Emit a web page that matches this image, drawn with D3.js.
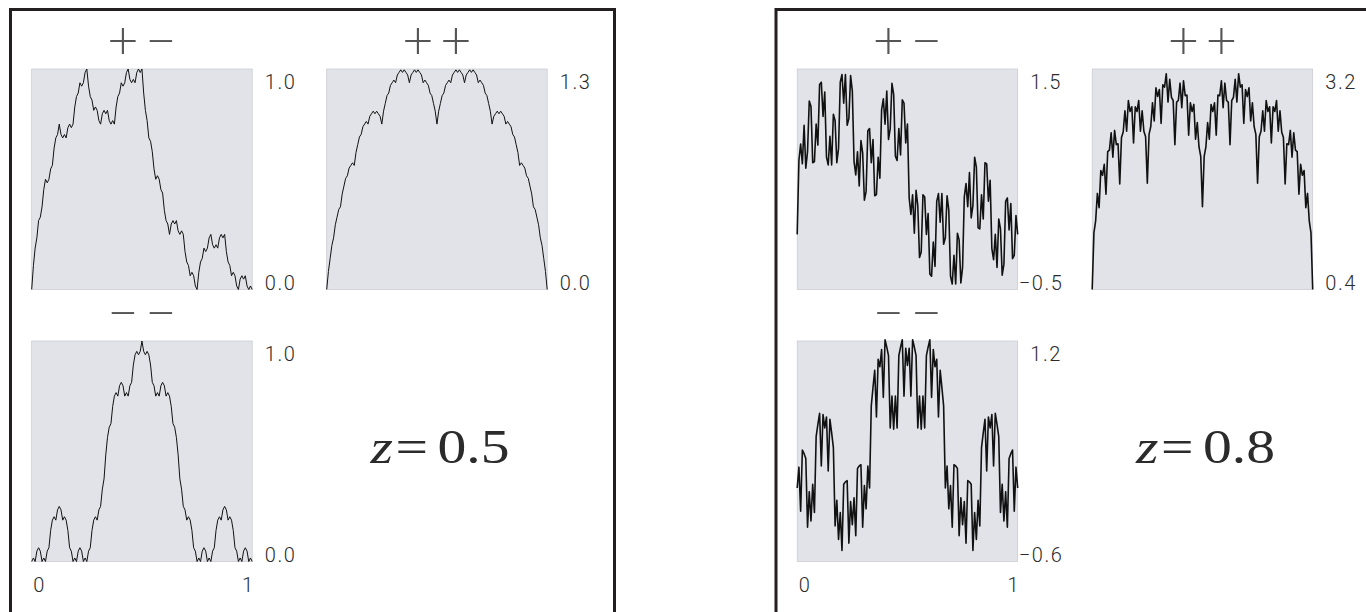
<!DOCTYPE html>
<html>
<head>
<meta charset="utf-8">
<script src="https://cdn.jsdelivr.net/npm/d3@7"></script>
<style>
  html, body { margin: 0; padding: 0; background: #fff; overflow: hidden; }
  svg { display: block; }
  .tick-label { font-family: Roboto, 'Open Sans', sans-serif; font-weight: 300; font-size: 20px; fill: #2b2b2b; letter-spacing: 1.6px; }
  .sign { font-family: Lato, 'DejaVu Sans', sans-serif; font-weight: 300; font-size: 54px; fill: #555; }
  .z-label { font-family: 'Liberation Serif', 'DejaVu Serif', serif; font-size: 48px; fill: #2b2b2b; }
</style>
</head>
<body>
<div id="chart"></div>
<script>
// panel titles (sign pattern) and the z of each frame
const signLabels = [['+', '−'], ['+', '+'], ['−', '−']];
const zLabels = ['0.5', '0.8'];
const xTickLabels = [0, 1];

// y ranges shown on the right of each panel
const rangesHalf = [[0, 1], [0, 1.333], [0, 1]];
const rangesEight = [[-0.5, 1.5], [0.4, 3.2], [-0.6, 1.2]];

// z = 0.5 curves, sampled evenly over [0, 1]
const pmHalf = [
  0, .109, .1875, .234, .3125, .328, .375, .453,
  .5, .484, .5, .547, .5625, .641, .6875, .703,
  .75, .703, .6875, .703, .6875, .734, .75, .734,
  .75, .828, .875, .891, .9375, .922, .9375, .984,
  1, .922, .875, .859, .8125, .828, .8125, .766,
  .75, .797, .8125, .797, .8125, .766, .75, .766,
  .75, .828, .875, .891, .9375, .922, .9375, .984,
  1, .953, .9375, .953, .9375, .984, 1, .984,
  1, .891, .8125, .766, .6875, .672, .625, .547,
  .5, .516, .5, .453, .4375, .359, .3125, .297,
  .25, .297, .3125, .297, .3125, .266, .25, .266,
  .25, .172, .125, .109, .0625, .078, .0625, .016,
  0, .078, .125, .141, .1875, .172, .1875, .234,
  .25, .203, .1875, .203, .1875, .234, .25, .234,
  .25, .172, .125, .109, .0625, .078, .0625, .016,
  0, .047, .0625, .047, .0625, .016, 0, .016,
  0
];
const ppHalf = [
  0, .109, .1875, .266, .3125, .391, .4375, .484,
  .5, .578, .625, .672, .6875, .734, .75, .766,
  .75, .828, .875, .922, .9375, .984, 1.0, 1.016,
  1.0, 1.047, 1.0625, 1.078, 1.0625, 1.078, 1.0625, 1.047,
  1.0, 1.078, 1.125, 1.172, 1.1875, 1.234, 1.25, 1.266,
  1.25, 1.297, 1.3125, 1.328, 1.3125, 1.328, 1.3125, 1.297,
  1.25, 1.297, 1.3125, 1.328, 1.3125, 1.328, 1.3125, 1.297,
  1.25, 1.266, 1.25, 1.234, 1.1875, 1.172, 1.125, 1.078,
  1.0, 1.078, 1.125, 1.172, 1.1875, 1.234, 1.25, 1.266,
  1.25, 1.297, 1.3125, 1.328, 1.3125, 1.328, 1.3125, 1.297,
  1.25, 1.297, 1.3125, 1.328, 1.3125, 1.328, 1.3125, 1.297,
  1.25, 1.266, 1.25, 1.234, 1.1875, 1.172, 1.125, 1.078,
  1.0, 1.047, 1.0625, 1.078, 1.0625, 1.078, 1.0625, 1.047,
  1.0, 1.016, 1.0, .984, .9375, .922, .875, .828,
  .75, .766, .75, .734, .6875, .672, .625, .578,
  .5, .484, .4375, .391, .3125, .266, .1875, .109,
  0
];
const mmHalf = [
  0, .016, 0, .047, .0625, .047, 0, .016,
  0, .047, .0625, .141, .1875, .203, .1875, .234,
  .25, .234, .1875, .203, .1875, .141, .0625, .047,
  0, .016, 0, .047, .0625, .047, 0, .016,
  0, .047, .0625, .141, .1875, .203, .1875, .234,
  .25, .328, .375, .484, .5625, .609, .625, .703,
  .75, .766, .75, .797, .8125, .797, .75, .766,
  .75, .797, .8125, .891, .9375, .953, .9375, .953,
  1, .953, .9375, .953, .9375, .891, .8125, .797,
  .75, .766, .75, .797, .8125, .797, .75, .766,
  .75, .703, .625, .609, .5625, .484, .375, .328,
  .25, .234, .1875, .203, .1875, .141, .0625, .047,
  0, .016, 0, .047, .0625, .047, 0, .016,
  0, .047, .0625, .141, .1875, .203, .1875, .234,
  .25, .234, .1875, .203, .1875, .141, .0625, .047,
  0, .016, 0, .047, .0625, .047, 0, .016,
  0
];

// z = 0.8 curves
const pmEight = [
  0, .67, .82, .64, .99, .60, .75, 1.21,
  1.16, .65, .66, 1.00, .81, 1.36, 1.38, 1.07,
  1.29, .70, .63, .89, .63, 1.09, 1.03, .65,
  .78, 1.38, 1.45, 1.19, 1.45, .99, 1.05, 1.44,
  1.30, .66, .54, .75, .44, .85, .74, .31,
  .39, .94, .96, .65, .86, .35, .36, .70,
  .51, 1.13, 1.23, 1.00, 1.30, .86, .96, 1.37,
  1.27, .71, .67, .96, .72, 1.22, 1.19, .83,
  1.00, .33, .18, .36, .01, .40, .26, -.21,
  -.16, .36, .34, .00, .19, -.36, -.38, -.07,
  -.29, .30, .37, .11, .37, -.09, -.03, .35,
  .22, -.38, -.45, -.19, -.45, .01, -.05, -.44,
  -.30, .34, .46, .25, .56, .15, .26, .70,
  .61, .06, .05, .36, .14, .65, .64, .30,
  .49, -.13, -.23, .00, -.30, .14, .05, -.37,
  -.27, .30, .33, .04, .28, -.22, -.19, .17,
  0
];
const ppEight = [
  .40, 1.12, 1.27, 1.62, 1.44, 1.91, 1.85, 1.99,
  1.61, 2.15, 2.17, 2.39, 2.08, 2.42, 2.24, 2.25,
  1.74, 2.33, 2.40, 2.67, 2.41, 2.80, 2.66, 2.72,
  2.26, 2.72, 2.66, 2.80, 2.41, 2.67, 2.41, 2.34,
  1.75, 2.37, 2.47, 2.77, 2.54, 2.96, 2.85, 2.94,
  2.51, 3.00, 2.97, 3.14, 2.78, 3.07, 2.84, 2.80,
  2.24, 2.78, 2.80, 3.02, 2.71, 3.05, 2.86, 2.87,
  2.36, 2.77, 2.66, 2.75, 2.31, 2.52, 2.21, 2.09,
  1.45, 2.09, 2.21, 2.52, 2.31, 2.75, 2.66, 2.77,
  2.36, 2.87, 2.86, 3.05, 2.71, 3.02, 2.80, 2.78,
  2.24, 2.80, 2.84, 3.07, 2.78, 3.14, 2.97, 3.00,
  2.51, 2.94, 2.85, 2.96, 2.54, 2.77, 2.47, 2.37,
  1.75, 2.34, 2.41, 2.67, 2.41, 2.80, 2.66, 2.72,
  2.26, 2.72, 2.66, 2.80, 2.41, 2.67, 2.40, 2.33,
  1.74, 2.25, 2.24, 2.42, 2.08, 2.39, 2.17, 2.15,
  1.61, 1.99, 1.85, 1.91, 1.44, 1.62, 1.27, 1.12,
  .40
];
const mmEight = [
  0, .17, -.19, .31, .28, .24, -.32, -.03,
  -.27, .03, -.20, .42, .52, .61, .18, .60,
  .49, .58, .14, .56, .45, .33, -.31, -.10,
  -.42, -.20, -.51, .03, .05, .06, -.45, -.11,
  -.30, -.08, -.39, .16, .18, .19, -.32, .02,
  -.17, .18, .00, .67, .82, .96, .58, 1.05,
  .99, 1.13, .74, 1.21, 1.15, 1.08, .49, .75,
  .48, .75, .49, 1.08, 1.15, 1.21, .75, 1.14,
  1.00, 1.14, .75, 1.21, 1.15, 1.08, .49, .75,
  .48, .75, .49, 1.08, 1.15, 1.21, .74, 1.13,
  .99, 1.05, .58, .96, .82, .67, .00, .18,
  -.17, .02, -.32, .19, .18, .16, -.39, -.08,
  -.30, -.11, -.45, .06, .05, .03, -.51, -.20,
  -.42, -.10, -.31, .33, .45, .56, .14, .58,
  .49, .60, .18, .61, .52, .42, -.20, .03,
  -.27, -.03, -.32, .24, .28, .31, -.19, .17,
  0
];

const WIDTH = 1366;
const HEIGHT = 612;
const BOX_SHIFT = 765.5;
const PANEL = 220.5;
const panelSpots = [
  { x: 31.7, y: 69 },
  { x: 326.7, y: 69 },
  { x: 31.7, y: 341 },
];

const svg = d3
  .select('#chart')
  .append('svg')
  .attr('width', WIDTH)
  .attr('height', HEIGHT);

const drawFrame = (shift, zText, series, ranges, lineWidth) => {
  const frame = svg.append('g').attr('transform', `translate(${shift}, 0)`);

  frame
    .append('rect')
    .attr('x', 10.5)
    .attr('y', 9.5)
    .attr('width', 604)
    .attr('height', 700)
    .attr('fill', 'none')
    .attr('stroke', '#231f20')
    .attr('stroke-width', 3);

  series.forEach((values, k) => {
    const spot = panelSpots[k];
    const x = d3.scaleLinear().domain([0, 1]).range([spot.x, spot.x + PANEL]);
    const y = d3
      .scaleLinear()
      .domain(ranges[k])
      .range([spot.y + PANEL, spot.y]);

    frame
      .append('rect')
      .attr('x', spot.x)
      .attr('y', spot.y)
      .attr('width', PANEL)
      .attr('height', PANEL)
      .attr('fill', '#e1e3e8')
      .attr('stroke', '#c6c8cd')
      .attr('stroke-width', 0.7);

    const line = d3
      .line()
      .x((_, i) => x(i / (values.length - 1)))
      .y((d) => y(d));

    frame
      .append('path')
      .datum(values)
      .attr('d', line)
      .attr('fill', 'none')
      .attr('stroke', '#111')
      .attr('stroke-width', lineWidth)
      .attr('stroke-linejoin', 'round');

    signLabels[k].forEach((sign, j) => {
      frame
        .append('text')
        .attr('class', 'sign')
        .attr('text-anchor', 'middle')
        .attr('x', spot.x + PANEL / 2 + (j ? 19 : -19))
        .attr('y', spot.y - 10.5)
        .text(sign);
    });

    const yAxis = frame
      .append('g')
      .attr('transform', `translate(${spot.x + PANEL}, 0)`)
      .call(
        d3
          .axisRight(y)
          .tickValues(ranges[k])
          .tickSize(0)
          .tickPadding(12)
          .tickFormat(d3.format('.1f'))
      );
    yAxis.select('.domain').remove();
    yAxis
      .selectAll('text')
      .attr('class', 'tick-label')
      .attr('x', (d) => (d < 0 ? 1 : 12.5))
      .attr('dy', (d) => (d === ranges[k][1] ? '0.97em' : '0.02em'));

    if (k === 2) {
      const xAxis = frame
        .append('g')
        .attr('transform', `translate(0, ${spot.y + PANEL})`)
        .call(
          d3
            .axisBottom(x)
            .tickValues(xTickLabels)
            .tickSize(0)
            .tickFormat(d3.format('d'))
        );
      xAxis.select('.domain').remove();
      xAxis
        .selectAll('text')
        .attr('class', 'tick-label')
        .attr('y', 30.5)
        .attr('dy', 0)
        .attr('text-anchor', (d) => (d === 0 ? 'start' : 'end'))
        .attr('x', (d) => (d === 0 ? 1 : 2));
    }
  });

  // the label is stretched sideways to match the wide math lettering
  const zLabel = frame
    .append('text')
    .attr('class', 'z-label')
    .attr('text-anchor', 'middle')
    .attr('transform', 'translate(440, 463) scale(1.2, 1)');
  zLabel.append('tspan').attr('font-style', 'italic').text('z');
  zLabel.append('tspan').attr('dx', 2).text('=');
  zLabel.append('tspan').attr('dx', 8).text(zText);
};

drawFrame(0, zLabels[0], [pmHalf, ppHalf, mmHalf], rangesHalf, 1);
drawFrame(BOX_SHIFT, zLabels[1], [pmEight, ppEight, mmEight], rangesEight, 1.6);
</script>
</body>
</html>
